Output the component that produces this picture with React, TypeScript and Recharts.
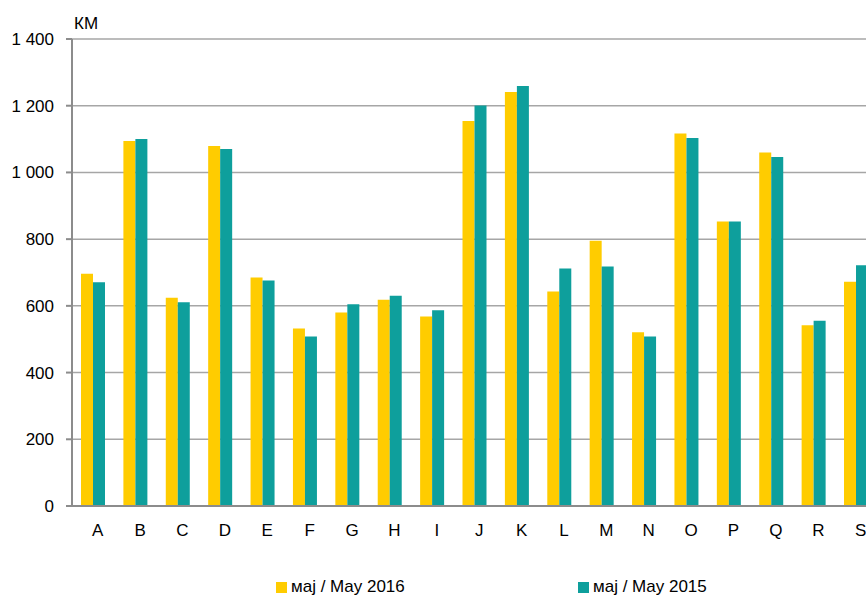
import React from 'react';
import { BarChart, Bar, XAxis, YAxis, CartesianGrid, Legend } from 'recharts';

const categories = ['A', 'B', 'C', 'D', 'E', 'F', 'G', 'H', 'I', 'J', 'K', 'L', 'M', 'N', 'O', 'P', 'Q', 'R', 'S'];
const may2016 = [696, 1094, 624, 1079, 685, 532, 580, 618, 568, 1154, 1241, 643, 795, 521, 1117, 853, 1060, 542, 672];
const may2015 = [671, 1100, 611, 1070, 676, 508, 605, 630, 587, 1201, 1259, 712, 718, 508, 1103, 853, 1046, 555, 722];
const yTicks = [0, 200, 400, 600, 800, 1000, 1200, 1400];
const edgeTicks = Array.from({ length: categories.length + 1 }, (_, i) => i);

const series = [
  { key: 'may2016', name: 'маj / May 2016', color: '#FFCC00' },
  { key: 'may2015', name: 'маj / May 2015', color: '#0E9F9C' },
];

const data = categories.map((c, i) => ({ cat: c, may2016: may2016[i], may2015: may2015[i] }));

const FONT = '"Liberation Sans", Arial, sans-serif';
const FS = 17;
const AXIS = '#8c8c8c';

const fmt = (v: number) => (v >= 1000 ? `${Math.floor(v / 1000)} ${String(v % 1000).padStart(3, '0')}` : String(v));

const renderLegend = () => (
  <div
    style={{
      height: 30,
      boxSizing: 'border-box',
      paddingTop: 10,
      paddingLeft: 276,
      display: 'flex',
      alignItems: 'center',
      fontFamily: FONT,
      fontSize: FS,
      color: '#000',
    }}
  >
    {series.map((s) => (
      <div key={s.key} style={{ width: 328, display: 'flex', alignItems: 'center' }}>
        <span style={{ width: 11, height: 11, background: s.color, display: 'inline-block', marginRight: 4 }} />
        <span>{s.name}</span>
      </div>
    ))}
  </div>
);

export default function App() {
  return (
    <div style={{ position: 'fixed', left: 0, top: 0, width: 866, height: 597, overflow: 'hidden', background: '#fff' }}>
      <BarChart
        width={880}
        height={597}
        data={data}
        margin={{ top: 39, right: 2.6, bottom: 0, left: 0 }}
        barGap={0}
        barSize={12}
      >
        <CartesianGrid vertical={false} stroke="#a6a6a6" strokeWidth={1.5} />
        <XAxis
          xAxisId="edge"
          type="number"
          domain={[0, categories.length]}
          ticks={edgeTicks}
          tick={false}
          axisLine={false}
          height={0}
          tickSize={6}
          stroke={AXIS}
          tickLine={{ stroke: AXIS, strokeWidth: 2 }}
        />
        <XAxis
          dataKey="cat"
          height={61}
          tickLine={false}
          tickSize={6}
          tickMargin={12}
          axisLine={{ stroke: AXIS, strokeWidth: 2 }}
          tick={{ fill: '#000', fontFamily: FONT, fontSize: FS, dx: 4.5 }}
          interval={0}
        />
        <YAxis
          width={72}
          domain={[0, 1400]}
          ticks={yTicks}
          tickFormatter={fmt}
          interval={0}
          tickSize={6}
          tickMargin={12}
          axisLine={{ stroke: AXIS, strokeWidth: 2 }}
          tickLine={{ stroke: AXIS, strokeWidth: 2 }}
          tick={{ fill: '#000', fontFamily: FONT, fontSize: FS }}
          label={(props: any) => {
            const vb = props.viewBox || {};
            return (
              <text x={(vb.x || 0) + (vb.width || 0) + 2} y={(vb.y || 0) - 10} fontFamily={FONT} fontSize={FS} fill="#000">
                КМ
              </text>
            );
          }}
        />
        <Legend verticalAlign="bottom" content={renderLegend} wrapperStyle={{ left: 0, width: 880 }} />
        {series.map((s) => (
          <Bar key={s.key} dataKey={s.key} name={s.name} fill={s.color} isAnimationActive={false} />
        ))}
      </BarChart>
    </div>
  );
}
